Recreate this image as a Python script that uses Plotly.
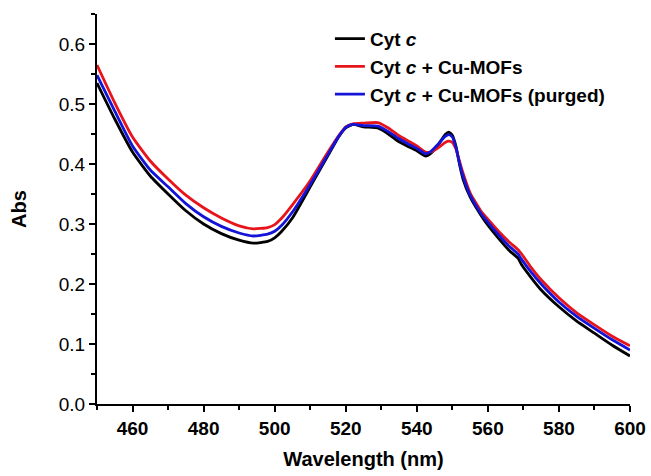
import plotly.graph_objects as go

wavelength = [450, 455, 460, 465, 470, 475, 480, 485, 490, 494, 498, 500, 502, 505, 510, 515, 518, 520, 522,
              525, 529, 532, 535, 538, 540, 542.5, 544, 546, 548, 549, 550, 551, 552, 553, 555, 558, 560,
              563, 566, 568.5, 569.5, 572, 575, 580, 585, 590, 595, 600]
cyt_c = [0.535, 0.475, 0.420, 0.380, 0.350, 0.322, 0.300, 0.284, 0.273, 0.268, 0.271, 0.277, 0.288, 0.310, 0.362, 0.414, 0.445, 0.460, 0.466,
         0.462, 0.460, 0.450, 0.437, 0.428, 0.422, 0.413, 0.418, 0.432, 0.449, 0.453, 0.448, 0.430, 0.400, 0.375, 0.345, 0.315, 0.298,
         0.276, 0.256, 0.243, 0.232, 0.212, 0.190, 0.162, 0.138, 0.118, 0.098, 0.080]
cyt_c_mof = [0.565, 0.502, 0.445, 0.405, 0.375, 0.348, 0.327, 0.310, 0.297, 0.292, 0.294, 0.299, 0.310, 0.332, 0.372, 0.420, 0.447, 0.462, 0.467,
             0.468, 0.469, 0.460, 0.447, 0.437, 0.430, 0.420, 0.420, 0.427, 0.436, 0.438, 0.436, 0.425, 0.405, 0.385, 0.352, 0.322, 0.308,
             0.288, 0.270, 0.257, 0.250, 0.229, 0.207, 0.177, 0.152, 0.132, 0.113, 0.097]
cyt_c_mof_purged = [0.548, 0.488, 0.430, 0.390, 0.362, 0.334, 0.312, 0.296, 0.285, 0.280, 0.283, 0.288, 0.298, 0.320, 0.366, 0.416, 0.446, 0.461, 0.466,
                    0.464, 0.463, 0.454, 0.442, 0.432, 0.426, 0.417, 0.421, 0.433, 0.446, 0.449, 0.445, 0.428, 0.402, 0.380, 0.348, 0.318, 0.303,
                    0.282, 0.263, 0.250, 0.241, 0.221, 0.200, 0.170, 0.146, 0.126, 0.107, 0.090]

names = ["<b>Cyt <i>c</i></b>", "<b>Cyt <i>c</i> + Cu-MOFs</b>", "<b>Cyt <i>c</i> + Cu-MOFs (purged)</b>"]
colors = ["#000000", "#e8141b", "#1414d8"]
series = [cyt_c, cyt_c_mof, cyt_c_mof_purged]

fig = go.Figure()
for name, col, ys in zip(names, colors, series):
    fig.add_trace(go.Scatter(x=wavelength, y=ys, mode="lines", name=name,
                             line=dict(color=col, width=2.8, shape="spline", smoothing=0.5)))

font_family = "Liberation Sans, Arial, sans-serif"
xt = [460, 480, 500, 520, 540, 560, 580, 600]
yt = [0, 0.1, 0.2, 0.3, 0.4, 0.5, 0.6]
fig.update_layout(
    width=651, height=476,
    margin=dict(l=97, r=21, t=14, b=72),
    paper_bgcolor="white", plot_bgcolor="white",
    font=dict(family=font_family, color="black", size=19),
    showlegend=True,
    legend=dict(x=0.437, y=0.985, xanchor="left", yanchor="top",
                bgcolor="rgba(0,0,0,0)", font=dict(size=19, family=font_family),
                tracegroupgap=0),
    xaxis=dict(range=[450, 600], tickvals=xt, automargin=False,
               ticktext=["<b>%d</b>" % v for v in xt],
               showline=True, linecolor="black", linewidth=2.2, mirror=False,
               ticks="outside", ticklen=6, tickwidth=2, tickcolor="black",
               tickfont=dict(size=19),
               minor=dict(dtick=10, tick0=450, ticks="outside", ticklen=4, tickwidth=2, tickcolor="black"),
               showgrid=False, zeroline=False,
               title=dict(text="<b>Wavelength (nm)</b>", font=dict(size=20), standoff=14)),
    yaxis=dict(range=[0, 0.65], tickvals=yt, automargin=False,
               ticktext=["%.1f" % v for v in yt],
               showline=True, linecolor="black", linewidth=2.2, mirror=False,
               ticks="outside", ticklen=6, tickwidth=2, tickcolor="black",
               tickfont=dict(size=19),
               minor=dict(dtick=0.05, tick0=0, ticks="outside", ticklen=4, tickwidth=2, tickcolor="black"),
               showgrid=False, zeroline=False,
               title=dict(text="<b>Abs</b>", font=dict(size=20), standoff=27)),
)

fig.write_html("out.html")
